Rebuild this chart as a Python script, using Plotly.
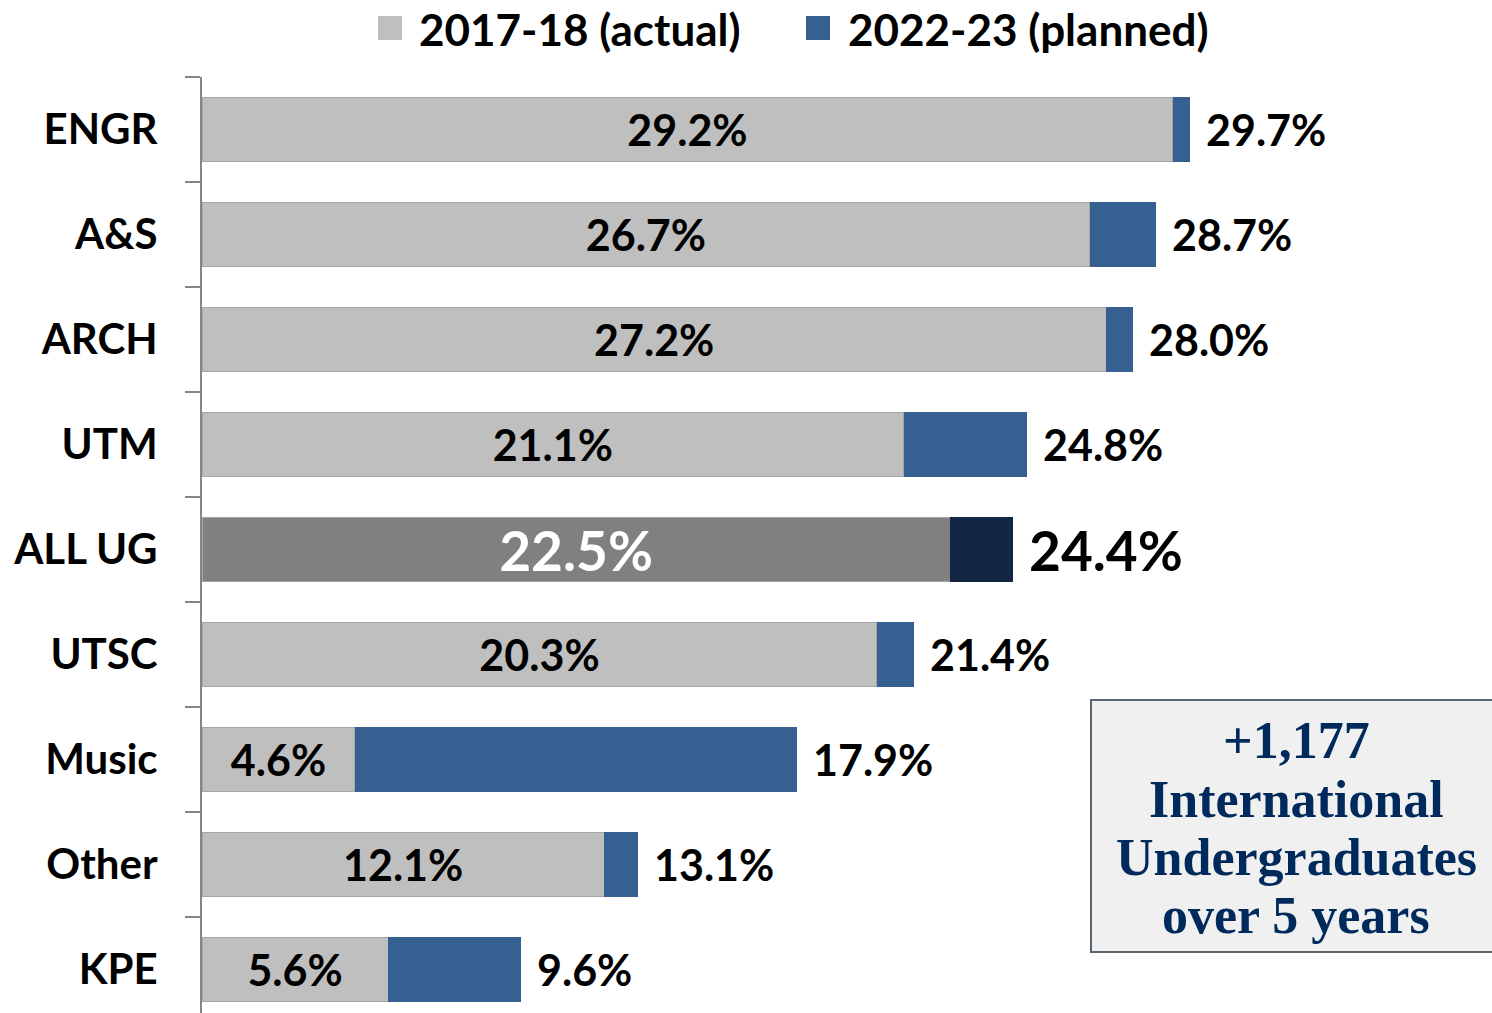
import plotly.graph_objects as go

categories = ["ENGR", "A&S", "ARCH", "UTM", "ALL UG", "UTSC", "Music", "Other", "KPE"]
actual_2017 = [29.2, 26.7, 27.2, 21.1, 22.5, 20.3, 4.6, 12.1, 5.6]
planned_2022 = [29.7, 28.7, 28.0, 24.8, 24.4, 21.4, 17.9, 13.1, 9.6]
legend_names = ["2017-18 (actual)", "2022-23 (planned)"]
box_lines = ["+1,177", "International", "Undergraduates", "over 5 years"]

W, H = 1492, 1013
L, T = 202, 77
PX_PER_UNIT = 33.25
BAND = 105.0

ypos = list(range(len(categories)))
increment = [round(p - a, 1) for a, p in zip(actual_2017, planned_2022)]
is_all = [c == "ALL UG" for c in categories]

gray_colors = ["#808080" if a else "#BFBFBF" for a in is_all]
blue_colors = ["#132744" if a else "#366092" for a in is_all]
in_sizes = [55 if a else 43 for a in is_all]
in_colors = ["#FFFFFF" if a else "#000000" for a in is_all]

FONT = "Lato"

fig = go.Figure()
fig.add_trace(go.Bar(
    y=ypos, x=actual_2017, orientation="h", name=legend_names[0],
    marker=dict(color=gray_colors, line=dict(color="#A6A6A6", width=1)),
    width=0.61,
    text=[f"{v:.1f}%" for v in actual_2017],
    textposition="inside", insidetextanchor="middle",
    textfont=dict(family=FONT, size=in_sizes, color=in_colors, weight="bold"),
    constraintext="none", showlegend=False, hoverinfo="skip",
))
fig.add_trace(go.Bar(
    y=ypos, x=increment, orientation="h", name=legend_names[1],
    marker=dict(color=blue_colors, line=dict(width=0)),
    width=0.61, showlegend=False, hoverinfo="skip",
))

# outside labels with planned totals
for i, (c, p) in enumerate(zip(categories, planned_2022)):
    fig.add_annotation(
        x=p, y=i, xref="x", yref="y", text=f"{p:.1f}%", showarrow=False,
        xanchor="left", yanchor="middle", xshift=14,
        font=dict(family=FONT, size=55 if is_all[i] else 43, color="#000000", weight="bold"),
    )

plot_w = W - L
plot_h = H - T

def px_x(px):
    return (px - L) / plot_w

def px_y(py):
    return (H - py) / plot_h

# legend drawn as swatches + text
leg = [("#BFBFBF", 378, 417, legend_names[0]), ("#366092", 806, 846, legend_names[1])]
for col, sx, tx, name in leg:
    fig.add_shape(type="rect", xref="paper", yref="paper",
                  x0=px_x(sx), x1=px_x(sx + 24), y0=px_y(40), y1=px_y(16),
                  fillcolor=col, line=dict(width=0))
    fig.add_annotation(x=px_x(tx), y=px_y(29), xref="paper", yref="paper",
                       text=name, showarrow=False, xanchor="left", yanchor="middle",
                       font=dict(family=FONT, size=44, color="#000000", weight="bold"))

# text box
fig.add_shape(type="rect", xref="paper", yref="paper",
              x0=px_x(1091), x1=px_x(1510), y0=px_y(952), y1=px_y(700),
              fillcolor="#F0F0F0", line=dict(color="#5B6570", width=2))
for txt, cy in zip(box_lines, [741, 799, 857, 915]):
    fig.add_annotation(x=px_x(1296), y=px_y(cy), xref="paper", yref="paper",
                       text=txt, showarrow=False, xanchor="center", yanchor="middle",
                       font=dict(family="Liberation Serif", size=52, color="#002A5C", weight="bold"))

x_max = plot_w / PX_PER_UNIT
y_bottom = -0.5 + plot_h / BAND

fig.update_layout(
    width=W, height=H,
    margin=dict(l=L, r=0, t=T, b=0, pad=0),
    barmode="stack", bargap=0.39,
    plot_bgcolor="#FFFFFF", paper_bgcolor="#FFFFFF",
    showlegend=False,
    font=dict(family=FONT, color="#000000"),
)
fig.update_xaxes(range=[0, x_max], visible=False, showgrid=False, zeroline=False)
fig.update_yaxes(
    range=[y_bottom, -0.5],
    tickmode="array", tickvals=ypos, ticktext=categories,
    ticks="", showgrid=False, zeroline=False,
    showline=True, linecolor="#868686", linewidth=2,
    tickfont=dict(family=FONT, size=42, color="#000000", weight="bold"),
    ticklabelstandoff=34,
    minor=dict(tickmode="array", tickvals=[k - 0.5 for k in range(len(categories) + 1)],
               ticks="outside", ticklen=15, tickcolor="#868686", tickwidth=2, showgrid=False),
)

fig.write_html(
    "out.html",
    config={"displayModeBar": False},
    post_script="document.body.style.margin='0';document.body.style.overflow='hidden';",
)
